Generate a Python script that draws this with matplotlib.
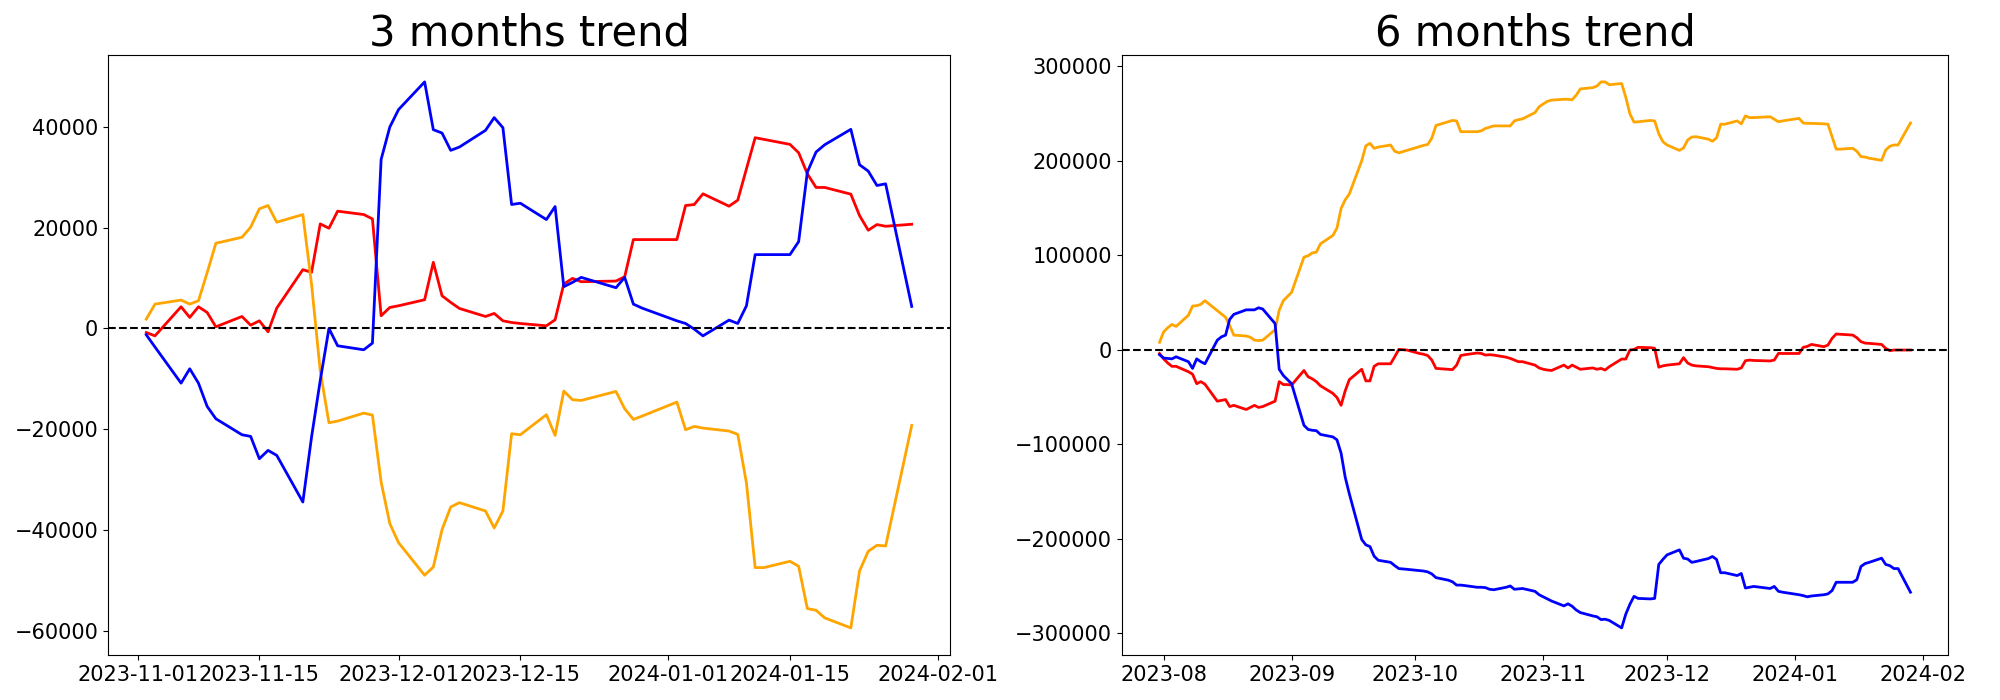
from matplotlib import pyplot as plt
import pandas as pd

# trading days shown on the two panels
holidays = ['2023-12-25', '2024-01-01']
start_3m = '2023-11-02'
start_6m = '2023-07-31'
end_date = '2024-01-29'

# 3 months panel
blue_3m = [-1250, -3670,
           -10830, -7990, -10830, -15450, -17890,
           -21060, -21390, -25810, -24160, -25150,
           -34390, -21520, -10300, 0, -3430,
           -4220, -2900, 33500, 39930, 43380,
           48870, 39400, 38740, 35300, 35960,
           39270, 41790, 39800, 24570, 24830,
           21590, 24170, 8280, 9140, 10130,
           8080, 10130, 4830, 4040,
           1520, 990, -130, -1460,
           1660, 990, 4500, 14640, 14640,
           14640, 17220, 30990, 34970, 36420,
           39470, 32450, 31190, 28340, 28670,
           4370]
red_3m = [-800, -1460,
          4300, 2190, 4300, 3180, 330,
          2380, 660, 1520, -660, 4040,
          11660, 11130, 20730, 19870, 23250,
          22580, 21720, 2520, 4170, 4500,
          5700, 13110, 6490, 5170, 3970,
          2380, 2980, 1520, 1190, 990,
          530, 1720, 8810, 9930, 9270,
          9400, 10260, 17620, 17620,
          17620, 24370, 24570, 26690,
          24240, 25430, 31650, 37810, 37480,
          36490, 34830, 30660, 27950, 27950,
          26620, 22380, 19470, 20600, 20260,
          20660]
orange_3m = [1850, 4830,
             5630, 4830, 5500, 11060, 16890,
             18080, 20070, 23710, 24370, 21060,
             22580, 8800, -8400, -18680, -18350,
             -16770, -17160, -30430, -38680, -42440,
             -48910, -47260, -39870, -35380, -34520,
             -36170, -39540, -36170, -20860, -21060,
             -17090, -21190, -12410, -14120, -14260,
             -12480, -15910, -18020, -17360,
             -14590, -20070, -19410, -19740,
             -20330, -20990, -30630, -47390, -47390,
             -46140, -47130, -55510, -55840, -57360,
             -59340, -48050, -44160, -42970, -43100,
             -19210]

# 6 months panel
blue_6m = [-5300,
           # aug
           -8800, -9200, -9700, -7500,
           -12700, -19800, -9700, -12700, -14900,
           10100, 13600, 15400, 32100, 37400,
           42200, 42200, 42200, 44400, 43100,
           27700, -20700, -27300, -31700,
           # sep
           -36000,
           -80000, -84400, -85300, -85700, -89700,
           -92300, -95400, -109500, -135000, -152600,
           -200900, -206600, -208400, -218500, -222900,
           -225100, -228600, -231700, -232100, -232500,
           # oct
           -233900, -234300, -235200, -237400, -241300,
           -244000, -245700, -249200, -249200, -249700,
           -251500, -251500, -251900, -253600, -254100,
           -251500, -250100, -253600, -253200, -252800,
           -255800, -259400,
           # nov
           -261600, -263800, -266000,
           -271200, -269000, -271600, -275600, -278300,
           -281800, -282700, -285700, -285300, -286600,
           -294500, -280000, -269500, -261100, -263300,
           -263800, -263300, -227300, -222000,
           # dec
           -217200,
           -211900, -220700, -221600, -225100, -224200,
           -221100, -218900, -222000, -236100, -236100,
           -239100, -236900, -252300, -251500, -250600,
           -252800, -250600, -255800, -256700,
           # jan
           -259400, -260300, -261600, -260700,
           -259400, -258500, -255000, -246200, -246200,
           -246200, -243500, -229500, -226400, -225100,
           -220700, -227300, -228600, -231700, -231700,
           -256700]
red_6m = [-4000,
          -9700, -14100, -17600, -17600,
          -23300, -25900, -36000, -33800, -36500,
          -54500, -53600, -52800, -60200, -58900,
          -63300, -61100, -58900, -61100, -60200,
          -54500, -33800, -36900, -36900,
          -37400,
          -22000, -28600, -30800, -33800, -38200,
          -46200, -50600, -58900, -43500, -31700,
          -20700, -33000, -33000, -17600, -14900,
          -14900, -7500, 400, 0, -400,
          -4000, -4800, -6200, -11000, -19800,
          -20700, -21100, -16300, -6200, -5300,
          -3500, -4000, -5700, -5300, -5700,
          -7900, -9200, -11000, -12700, -12700,
          -16300, -19300,
          -20700, -21500, -22000,
          -16300, -19300, -16300, -18500, -20700,
          -19300, -20700, -19800, -21500, -18000,
          -9900, -9900, -350, 350, 2500,
          2100, 1500, -18500, -17100,
          -16300,
          -14900, -8400, -14100, -16300, -17100,
          -18000, -18900, -19800, -20200, -20200,
          -20700, -19300, -11700, -11000, -11400,
          -11900, -10900, -3900, -4000,
          -4000, 2500, 3500, 5600,
          3200, 4900, 12000, 16600, 16300,
          15500, 12700, 8500, 7000, 6700,
          5600, 1400, -1000, -350, -350,
          -350]
orange_6m = [7900,
             18900, 23300, 26800, 24600,
             36500, 46200, 46600, 48000, 51900,
             41300, 37800, 34300, 25500, 15400,
             14500, 13200, 10100, 9700, 10100,
             21100, 41800, 51900, 56300,
             60700,
             98000, 99400, 102400, 103300, 112100,
             120900, 128800, 149500, 158700, 164900,
             200000, 215800, 218500, 213200, 214500,
             216700, 210100, 208400, 209700, 211000,
             215000, 216300, 217200, 224100, 237400,
             241300, 242700, 242200, 230800, 230800,
             230800, 231700, 234300, 235600, 236900,
             236900, 236900, 242200, 243500, 244400,
             251000, 257200,
             260200, 262900, 264200,
             265100, 265100, 264600, 269500, 276100,
             277400, 279100, 283500, 283500, 280500,
             281800, 267300, 249700, 240900, 241300,
             242700, 242200, 228600, 220200,
             216700,
             211000, 213600, 222000, 225100, 225500,
             222900, 220700, 224200, 238700, 238700,
             242200, 239100, 247500, 245700, 245700,
             246600, 244000, 241300, 242200,
             244900, 240000, 239600, 239600,
             239100, 238700, 225500, 212300, 212300,
             213200, 210100, 204400, 204000, 202700,
             200500, 211400, 215400, 216700, 216700,
             240000]


def trading_days(start, end):
    return pd.bdate_range(start, end, freq='C', holidays=holidays)


def draw_trend(ax, dates, blue, red, orange, title):
    ax.plot(dates, red, color='red', linewidth=2)
    ax.plot(dates, orange, color='orange', linewidth=2)
    ax.plot(dates, blue, color='blue', linewidth=2)
    ax.axhline(0, color='black', linestyle='--', linewidth=1.5)
    ax.set_title(title, fontsize=30)
    ax.tick_params(labelsize=15)


dates_3m = trading_days(start_3m, end_date)
dates_6m = trading_days(start_6m, end_date)

fig, axarr = plt.subplots(1, 2, figsize=(20, 7), dpi=100)
axarr[0].set_position([0.054, 0.064, 0.421, 0.858])
axarr[1].set_position([0.561, 0.064, 0.413, 0.858])
draw_trend(axarr[0], dates_3m, blue_3m, red_3m, orange_3m, '3 months trend')
draw_trend(axarr[1], dates_6m, blue_6m, red_6m, orange_6m, '6 months trend')

fig.savefig('out.png')
